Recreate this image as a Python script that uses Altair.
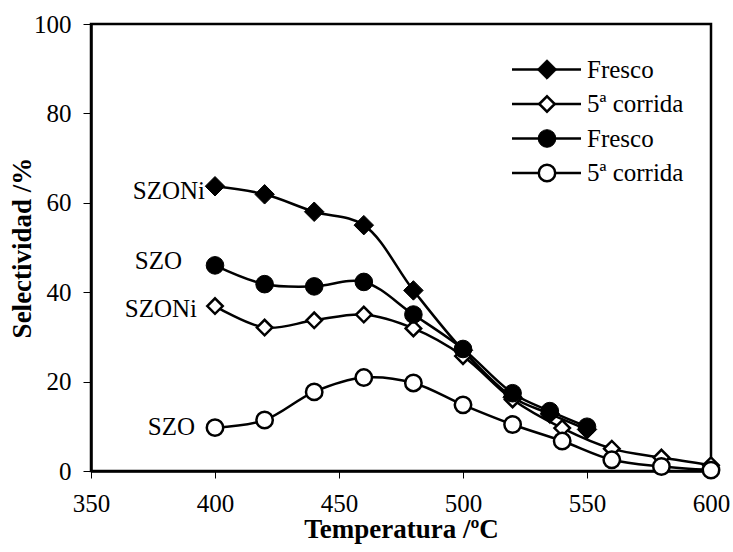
import altair as alt
import pandas as pd

FONT = "Liberation Serif"

# ---- data ----
t_szoni_fresh = [400, 420, 440, 460, 480, 500, 520, 535, 550]
v_szoni_fresh = [63.7, 61.9, 58.0, 55.0, 40.4, 27.0, 16.5, 12.8, 9.3]

t_szoni_5 = [400, 420, 440, 460, 480, 500, 520, 540, 560, 580, 600]
v_szoni_5 = [36.9, 32.1, 33.7, 35.0, 31.9, 25.7, 16.0, 9.6, 5.0, 3.0, 1.3]

t_szo_fresh = [400, 420, 440, 460, 480, 500, 520, 535, 550]
v_szo_fresh = [46.0, 41.8, 41.3, 42.3, 35.0, 27.3, 17.4, 13.4, 9.9]

t_szo_5 = [400, 420, 440, 460, 480, 500, 520, 540, 560, 580, 600]
v_szo_5 = [9.7, 11.4, 17.7, 20.9, 19.7, 14.8, 10.4, 6.7, 2.5, 1.0, 0.2]

series_names = ["SZONi Fresco", "SZONi 5ª corrida", "SZO Fresco", "SZO 5ª corrida"]
legend_labels = ["Fresco", "5ª corrida", "Fresco", "5ª corrida"]
annot_labels = ["SZONi", "SZONi", "SZO", "SZO"]

series_t = [t_szoni_fresh, t_szoni_5, t_szo_fresh, t_szo_5]
series_v = [v_szoni_fresh, v_szoni_5, v_szo_fresh, v_szo_5]

# styles (not data)
styles = [
    dict(shape="diamond", fill="black", size=380, sw=1),
    dict(shape="diamond", fill="white", size=240, sw=2.5),
    dict(shape="circle", fill="black", size=310, sw=1),
    dict(shape="circle", fill="white", size=270, sw=2.5),
]
annot_offsets = [(-10, 5), (-18, 3), (-33, -4), (-20, -1)]

xscale = alt.Scale(domain=[350, 600], nice=False, zero=False)
yscale = alt.Scale(domain=[0, 100], nice=False)

xaxis = alt.Axis(values=[350, 400, 450, 500, 550, 600], title="Temperatura /ºC",
                 grid=False, tickSize=7, labelPadding=13, titleY=66,
                 titleBaseline="alphabetic", labelFlush=False,
                 labelFont=FONT, titleFont=FONT)
yaxis = alt.Axis(values=[0, 20, 40, 60, 80, 100], title="Selectividad /%",
                 grid=False, tickSize=8, labelPadding=12, labelFlush=False,
                 titleX=-69, titleY=223.5, titleAngle=-90,
                 titleAlign="center", titleBaseline="middle",
                 labelFont=FONT, titleFont=FONT)

layers = []
for i, name in enumerate(series_names):
    df = pd.DataFrame({"T": series_t[i], "S": series_v[i], "serie": name})
    st = styles[i]
    base = alt.Chart(df)
    line = base.mark_line(color="black", strokeWidth=2.5, interpolate="catmull-rom").encode(
        x=alt.X("T:Q", scale=xscale, axis=xaxis),
        y=alt.Y("S:Q", scale=yscale, axis=yaxis),
    )
    pts = base.mark_point(shape=st["shape"], filled=True, fill=st["fill"], stroke="black",
                          strokeWidth=st["sw"], size=st["size"], opacity=1).encode(
        x=alt.X("T:Q", scale=xscale),
        y=alt.Y("S:Q", scale=yscale),
    )
    dx, dy = annot_offsets[i]
    adf = pd.DataFrame({"T": [series_t[i][0]], "S": [series_v[i][0]], "lab": [annot_labels[i]]})
    txt = alt.Chart(adf).mark_text(align="right", baseline="middle", font=FONT, fontSize=25,
                                   dx=dx, dy=dy, color="black").encode(
        x=alt.X("T:Q", scale=xscale),
        y=alt.Y("S:Q", scale=yscale),
        text="lab:N",
    )
    layers += [line, pts, txt]

# manual legend (layout in pixels)
leg_x0, leg_x1, leg_sym, leg_txt = 421, 490, 456, 496
leg_y0, leg_dy = 45.5, 34.5
for i, lab in enumerate(legend_labels):
    st = styles[i]
    yy = leg_y0 + i * leg_dy
    ldf = pd.DataFrame({"lab": [lab]})
    lb = alt.Chart(ldf)
    layers.append(lb.mark_rule(color="black", strokeWidth=2.5).encode(
        x=alt.value(leg_x0), x2=alt.value(leg_x1), y=alt.value(yy)))
    layers.append(lb.mark_point(shape=st["shape"], filled=True, fill=st["fill"], stroke="black",
                                strokeWidth=st["sw"], size=st["size"], opacity=1).encode(
        x=alt.value(leg_sym), y=alt.value(yy)))
    layers.append(lb.mark_text(align="left", baseline="middle", font=FONT, fontSize=25,
                               color="black").encode(
        x=alt.value(leg_txt), y=alt.value(yy), text="lab:N"))

chart = alt.layer(*layers).properties(
    width=620, height=447,
    autosize=alt.AutoSizeParams(type="none"),
    padding={"left": 91, "top": 24, "right": 22, "bottom": 81},
    background="white",
).configure(
    font=FONT
).configure_view(
    stroke="black", strokeWidth=2.5
).configure_axis(
    domainColor="black", domainWidth=2.5, tickColor="black", tickWidth=1,
    labelFontSize=25, labelColor="black",
    titleFontSize=27, titleFontWeight="bold", titleColor="black",
)

chart.save("out.html", embed_options={"renderer": "svg", "actions": False})
